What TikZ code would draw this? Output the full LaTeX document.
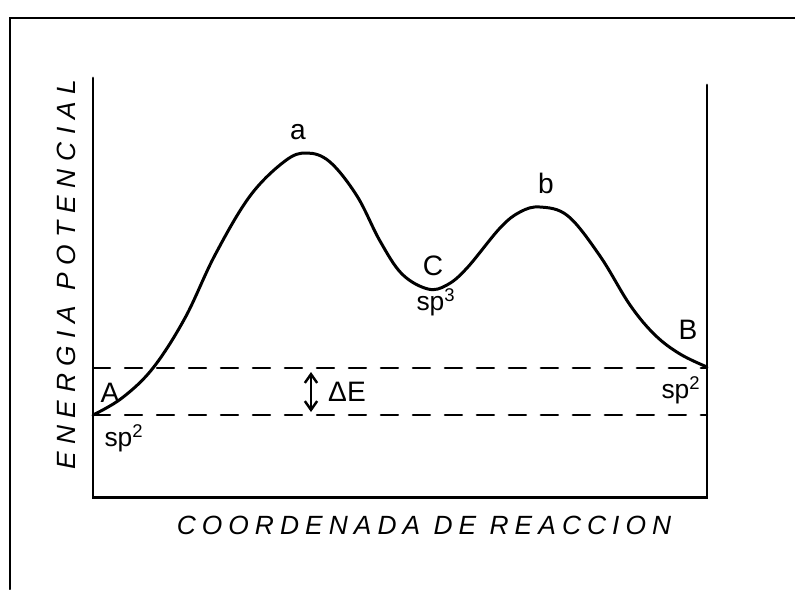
\documentclass[tikz,border=0pt]{standalone}
\usepackage{fontspec}
\setmainfont{Liberation Sans}
\newfontfamily\yaxisfont[LetterSpace=29]{Liberation Sans}
\newfontfamily\xaxisfont[LetterSpace=23]{Liberation Sans}
\usetikzlibrary{arrows.meta}

\begin{document}
\begin{tikzpicture}[
  x=0.02cm,y=-0.02cm,
  >={Straight Barb[length=5pt,width=7pt]},
  line cap=round,
  frameline/.style={line width=1.7pt},
  curveline/.style={line width=1.7pt,line join=round},
  levelline/.style={line width=1.4pt,dash pattern=on 0.34cm off 0.3cm},
  axislabel/.style={font=\itshape\fontsize{15}{18}\selectfont},
  statelabel/.style={font=\fontsize{16}{19}\selectfont,inner sep=1pt},
  hybrid/.style={font=\fontsize{15}{18}\selectfont,inner sep=1pt}
]
\useasboundingbox (0,0) rectangle (795,589);

% Outer frame of the page.
\draw[frameline] (10,589) -- (10,18) -- (795,18);

% Axes of the diagram.
\coordinate (top left) at (93,78);
\coordinate (origin) at (93,497);
\coordinate (corner) at (707,497);
\coordinate (top right) at (707,85);
\draw[frameline] (top left) -- (origin) -- (corner) -- (top right);

% Energy levels of A and B.
\draw[levelline] (93,368) -- (707,368);
\draw[levelline] (93,415) -- (707,415);

% Reaction profile A -> a -> C -> b -> B.
\coordinate (A) at (93,415);
\coordinate (a) at (307,153);
\coordinate (C) at (428,289);
\coordinate (b) at (540,207);
\coordinate (B) at (707,367);
\draw[curveline] plot[smooth,tension=0.6] coordinates {
  (A) (122,398) (153,368) (185,318) (215,255) (250,196)
  (285,161) (a) (330,162) (357,196) (380,241) (402,274) (C)
  (447,285) (467,268) (500,228) (520,212) (b) (568,216) (600,256)
  (630,305) (655,335) (680,354) (B)};

% Difference of energy between A and B.
\coordinate (dE top) at (311,372);
\coordinate (dE bottom) at (311,412);
\draw[<->,line width=1.4pt] (dE top) -- (dE bottom);
\node[statelabel] (dE) at (347,392) {ΔE};

% States and hybridisations.
\node[statelabel] (lbl a) at (298,132) {a};
\node[statelabel] (lbl b) at (546,183) {b};
\node[statelabel] (lbl C) at (433,266) {C};
\node[hybrid] (lbl sp3) at (436,302) {sp\textsuperscript{3}};
\node[statelabel] (lbl A) at (110,393) {A};
\node[hybrid] (lbl spA) at (124,438) {sp\textsuperscript{2}};
\node[statelabel] (lbl B) at (688,330) {B};
\node[hybrid] (lbl spB) at (681,390) {sp\textsuperscript{2}};

% Axis titles.
\node[axislabel,font=\yaxisfont\itshape\fontsize{15}{18}\selectfont,rotate=90] (y title) at (66,275) {ENERGIA POTENCIAL};
\node[axislabel,font=\xaxisfont\itshape\fontsize{15}{18}\selectfont] (x title) at (424,525) {COORDENADA DE REACCION};
\end{tikzpicture}
\end{document}
